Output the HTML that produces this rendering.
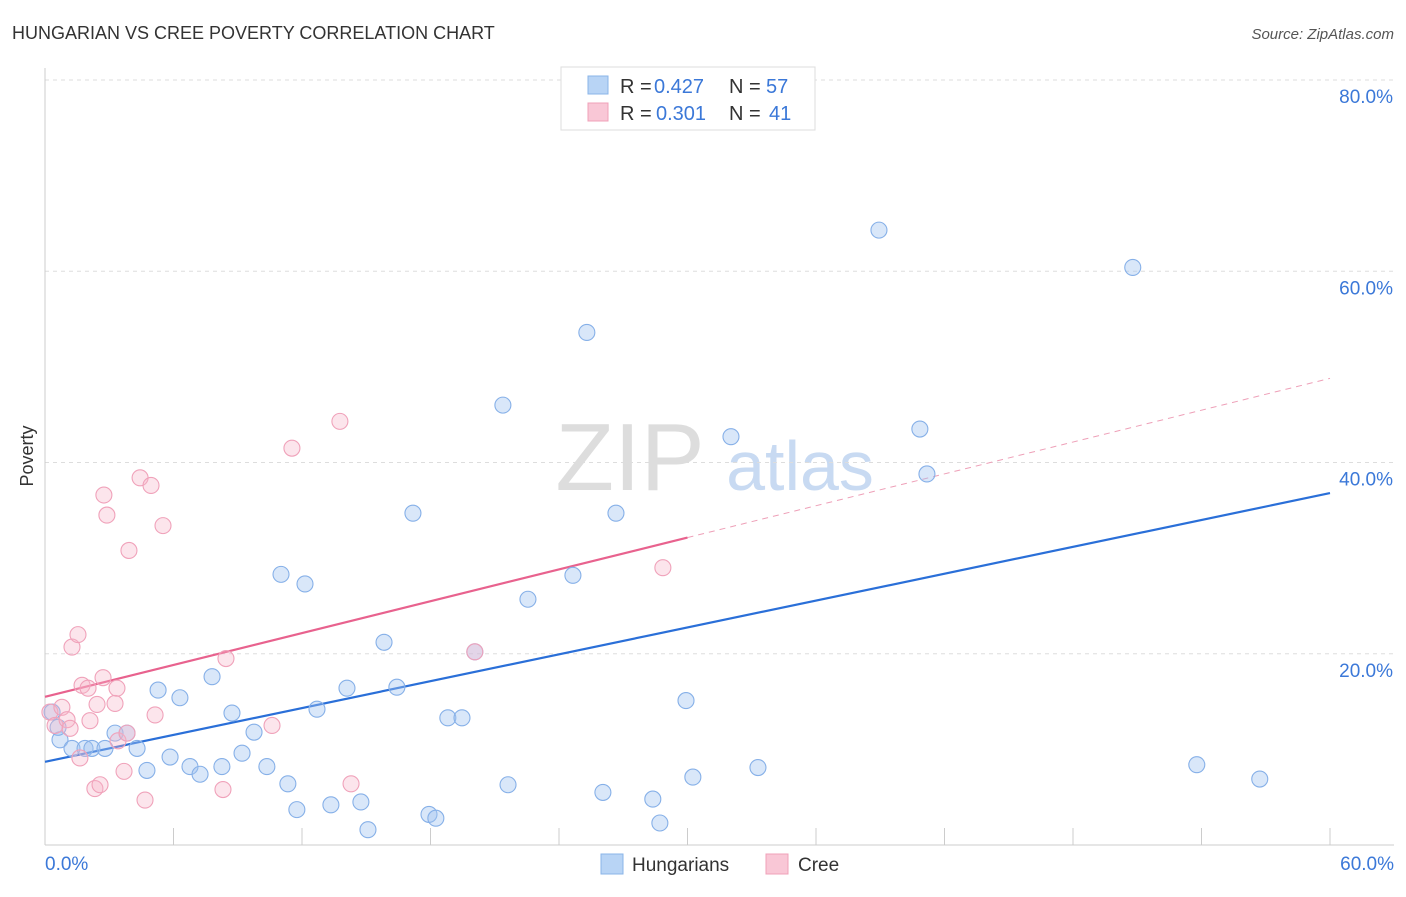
<!DOCTYPE html>
<html><head><meta charset="utf-8"><style>
body{margin:0;background:#fff;font-family:"Liberation Sans",sans-serif;}
svg text{font-family:"Liberation Sans",sans-serif;}
</style></head><body>
<svg id="chart" width="1406" height="892" viewBox="0 0 1406 892" xmlns="http://www.w3.org/2000/svg">
<text x="12" y="39" font-size="18" fill="#333">HUNGARIAN VS CREE POVERTY CORRELATION CHART</text>
<text x="1394" y="39" font-size="15" fill="#555" font-style="italic" text-anchor="end">Source: ZipAtlas.com</text>
<text x="630" y="490" font-size="96" fill="#ddd" font-family="Liberation Serif" text-anchor="middle">ZIP</text>
<text x="800" y="490" font-size="70" fill="#c8daf2" text-anchor="middle">atlas</text>
<g id="grid"></g>
<g id="axes"></g>
<text x="33" y="456" font-size="18" fill="#333" transform="rotate(-90 33 456)" text-anchor="middle">Poverty</text>
<g id="trend"></g>
<g id="pts"></g>
<g>
<rect x="561" y="67" width="254" height="63" fill="#fff" stroke="#ddd"/>
<rect x="588" y="76" width="20" height="18" fill="#b8d4f5" stroke="#8ab4e8"/>
<text x="620" y="93" font-size="20" fill="#333">R =</text>
<text x="654" y="93" font-size="20" fill="#3b78d8">0.427</text>
<text x="729" y="93" font-size="20" fill="#333">N =</text>
<text x="766" y="93" font-size="20" fill="#3b78d8">57</text>
<rect x="588" y="103" width="20" height="18" fill="#f9c7d6" stroke="#f0a0b8"/>
<text x="620" y="120" font-size="20" fill="#333">R =</text>
<text x="656" y="120" font-size="20" fill="#3b78d8">0.301</text>
<text x="729" y="120" font-size="20" fill="#333">N =</text>
<text x="769" y="120" font-size="20" fill="#3b78d8">41</text>
</g>
<g>
<rect x="601" y="854" width="22" height="20" fill="#b8d4f5" stroke="#8ab4e8"/>
<text x="632" y="871" font-size="19" fill="#333">Hungarians</text>
<rect x="766" y="854" width="22" height="20" fill="#f9c7d6" stroke="#f0a0b8"/>
<text x="798" y="871" font-size="19" fill="#333">Cree</text>
</g>
</svg>
<script>
const yTicks=[20,40,60,80];
const yTickLabels=["20.0%","40.0%","60.0%","80.0%"];
const xTickLabels=["0.0%","60.0%"];
const blueX=[0.33,0.70,0.61,1.26,1.87,2.19,2.80,3.27,3.83,4.30,4.76,5.28,5.84,6.30,6.77,7.24,7.80,8.26,8.73,9.20,9.76,10.36,11.02,11.34,11.76,12.14,12.70,13.35,14.10,14.75,15.08,15.83,16.43,17.18,17.93,18.25,18.81,19.47,20.07,21.38,21.62,22.55,24.65,25.30,26.05,26.66,28.38,28.71,29.93,30.25,32.03,33.29,38.94,40.85,41.18,50.79,53.78,56.72];
const blueY=[13.9,11.0,12.3,10.1,10.1,10.1,10.1,11.7,11.7,10.1,7.8,16.2,9.2,15.4,8.2,7.4,17.6,8.2,13.8,9.6,11.8,8.2,28.3,6.4,3.7,27.3,14.2,4.2,16.4,4.5,1.6,21.2,16.5,34.7,3.2,2.8,13.3,13.3,20.2,46.0,6.3,25.7,28.2,53.6,5.5,34.7,4.8,2.3,15.1,7.1,42.7,8.1,64.3,43.5,38.8,60.4,8.4,6.9];
const pinkX=[0.23,0.47,0.79,1.03,1.17,1.26,1.54,1.63,1.73,2.01,2.10,2.33,2.43,2.57,2.71,2.75,2.89,3.27,3.36,3.41,3.69,3.83,3.92,4.44,4.67,4.95,5.14,5.51,8.31,8.45,10.60,11.53,13.77,14.29,20.07,28.85];
const pinkY=[13.9,12.5,14.4,13.1,12.2,20.7,22.0,9.1,16.7,16.4,13.0,5.9,14.7,6.3,17.5,36.6,34.5,14.8,16.4,10.9,7.7,11.7,30.8,38.4,4.7,37.6,13.6,33.4,5.8,19.5,12.5,41.5,44.3,6.4,20.2,29.0];
const blueTrend=[8.7,36.8];
const pinkTrend=[15.5,48.8];
const X=v=>45+v*(1285/60), Y=v=>845-v*9.5625;
const NS="http://www.w3.org/2000/svg";
function mk(tag,attrs,parent){const e=document.createElementNS(NS,tag);for(const k in attrs)e.setAttribute(k,attrs[k]);document.getElementById(parent).appendChild(e);return e;}
yTicks.forEach((t,i)=>{
 const l=mk('line',{x1:45,x2:1394,y1:Y(t),y2:Y(t),stroke:'#ddd','stroke-dasharray':'4,4'},'grid');
 
 
 const tx=mk('text',{x:1393,y:Y(t)+23,'font-size':19,fill:'#3b78d8','text-anchor':'end'},'grid');
 tx.textContent=yTickLabels[i];
 
 
});
let ax=mk('line',{x1:45,x2:45,y1:68,y2:845,stroke:'#ccc'},'axes');


ax=mk('line',{x1:45,x2:1394,y1:845,y2:845,stroke:'#ccc'},'axes');


for(let i=1;i<=10;i++){const t=mk('line',{x1:X(i*6),x2:X(i*6),y1:828,y2:845,stroke:'#ccc'},'axes');
 
 }
[[0,'start',45],[60,'end',1394]].forEach((d,i)=>{const t=mk('text',{x:d[2],y:870,'font-size':19,fill:'#3b78d8','text-anchor':d[1]},'axes');t.textContent=xTickLabels[i];
 
 });
function pts(xs,ys,fill,stroke,name){xs.forEach((x,i)=>{const c=mk('circle',{cx:X(x),cy:Y(ys[i]),r:8,fill:fill,stroke:stroke,'stroke-width':1.1},'pts');
 
 });}
pts(blueX,blueY,'rgba(160,196,240,0.4)','#86b0e8','hungarian-point');
pts(pinkX,pinkY,'rgba(245,180,200,0.35)','#f0a2ba','cree-point');
let tl=mk('line',{x1:X(0),y1:Y(blueTrend[0]),x2:X(60),y2:Y(blueTrend[1]),stroke:'#2a6fd8','stroke-width':2.2},'trend');


const pAt=x=>pinkTrend[0]+(pinkTrend[1]-pinkTrend[0])*x/60;
tl=mk('line',{x1:X(0),y1:Y(pAt(0)),x2:X(30),y2:Y(pAt(30)),stroke:'#e8628e','stroke-width':2.2},'trend');


tl=mk('line',{x1:X(30),y1:Y(pAt(30)),x2:X(60),y2:Y(pAt(60)),stroke:'#eea0b8','stroke-width':1,'stroke-dasharray':'6,5'},'trend');


</script>
</body></html>
